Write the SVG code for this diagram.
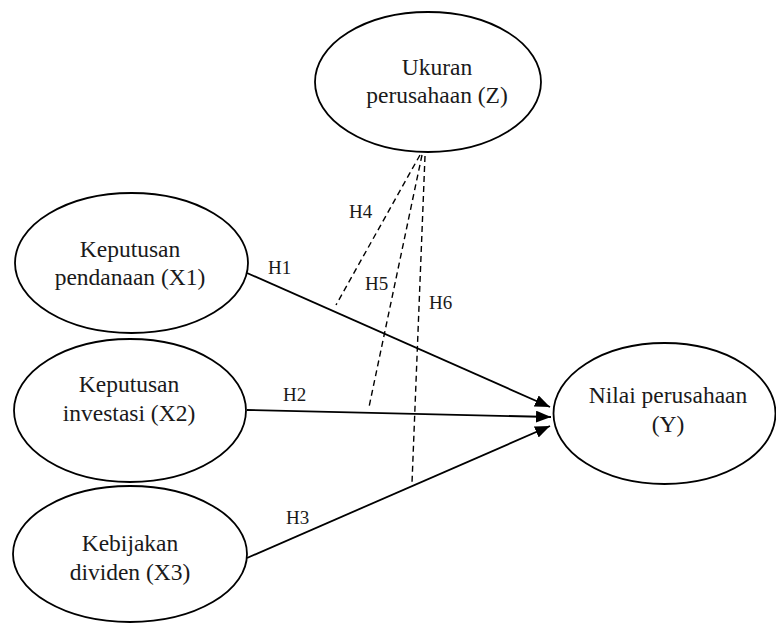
<svg xmlns="http://www.w3.org/2000/svg" width="776" height="623" viewBox="0 0 776 623">
  <style>
    .node ellipse { fill: #ffffff; stroke: #000000; stroke-width: 1.8; }
    .node text { font-family: "Liberation Serif", "Times New Roman", serif; font-size: 23.5px; fill: #1a1a1a; text-anchor: middle; }
    .label { font-family: "Liberation Serif", "Times New Roman", serif; font-size: 19px; fill: #1a1a1a; }
    .solid { stroke: #000000; stroke-width: 1.8; fill: none; }
    .dashed { stroke: #000000; stroke-width: 1.4; fill: none; stroke-dasharray: 6 4; }
  </style>
  <defs>
    <marker id="arrow" markerUnits="userSpaceOnUse" markerWidth="16" markerHeight="12" refX="15" refY="6" orient="auto">
      <path d="M0,0 L15,6 L0,12 z" fill="#000000"/>
    </marker>
  </defs>
  <rect width="776" height="623" fill="#ffffff"/>

  <g id="connectors">
    <line class="solid" x1="247" y1="273" x2="550" y2="407" marker-end="url(#arrow)"/>
    <line class="solid" x1="247" y1="410" x2="551" y2="417" marker-end="url(#arrow)"/>
    <line class="solid" x1="247" y1="558" x2="550" y2="426" marker-end="url(#arrow)"/>
    <line class="dashed" x1="420" y1="155" x2="336" y2="305"/>
    <line class="dashed" x1="422" y1="155" x2="369" y2="407"/>
    <line class="dashed" x1="425" y1="156" x2="412" y2="483"/>
    <text class="label" x="268" y="274">H1</text>
    <text class="label" x="283" y="401">H2</text>
    <text class="label" x="286" y="524">H3</text>
    <text class="label" x="349" y="218">H4</text>
    <text class="label" x="365" y="290">H5</text>
    <text class="label" x="429" y="309">H6</text>
  </g>

  <g id="node-z" class="node">
    <ellipse cx="428" cy="82" rx="113" ry="70"/>
    <text x="437" y="75">Ukuran</text>
    <text x="437" y="103">perusahaan (Z)</text>
  </g>
  <g id="node-x1" class="node">
    <ellipse cx="131.5" cy="263" rx="116.5" ry="70"/>
    <text x="130" y="257">Keputusan</text>
    <text x="130" y="285">pendanaan (X1)</text>
  </g>
  <g id="node-x2" class="node">
    <ellipse cx="130" cy="410.5" rx="116" ry="71.5"/>
    <text x="129" y="392">Keputusan</text>
    <text x="129" y="421">investasi (X2)</text>
  </g>
  <g id="node-x3" class="node">
    <ellipse cx="130" cy="554" rx="117" ry="68"/>
    <text x="130" y="551">Kebijakan</text>
    <text x="130" y="580">dividen (X3)</text>
  </g>
  <g id="node-y" class="node">
    <ellipse cx="664.5" cy="413.5" rx="111" ry="70.5"/>
    <text x="668" y="403">Nilai perusahaan</text>
    <text x="668" y="432">(Y)</text>
  </g>
</svg>
